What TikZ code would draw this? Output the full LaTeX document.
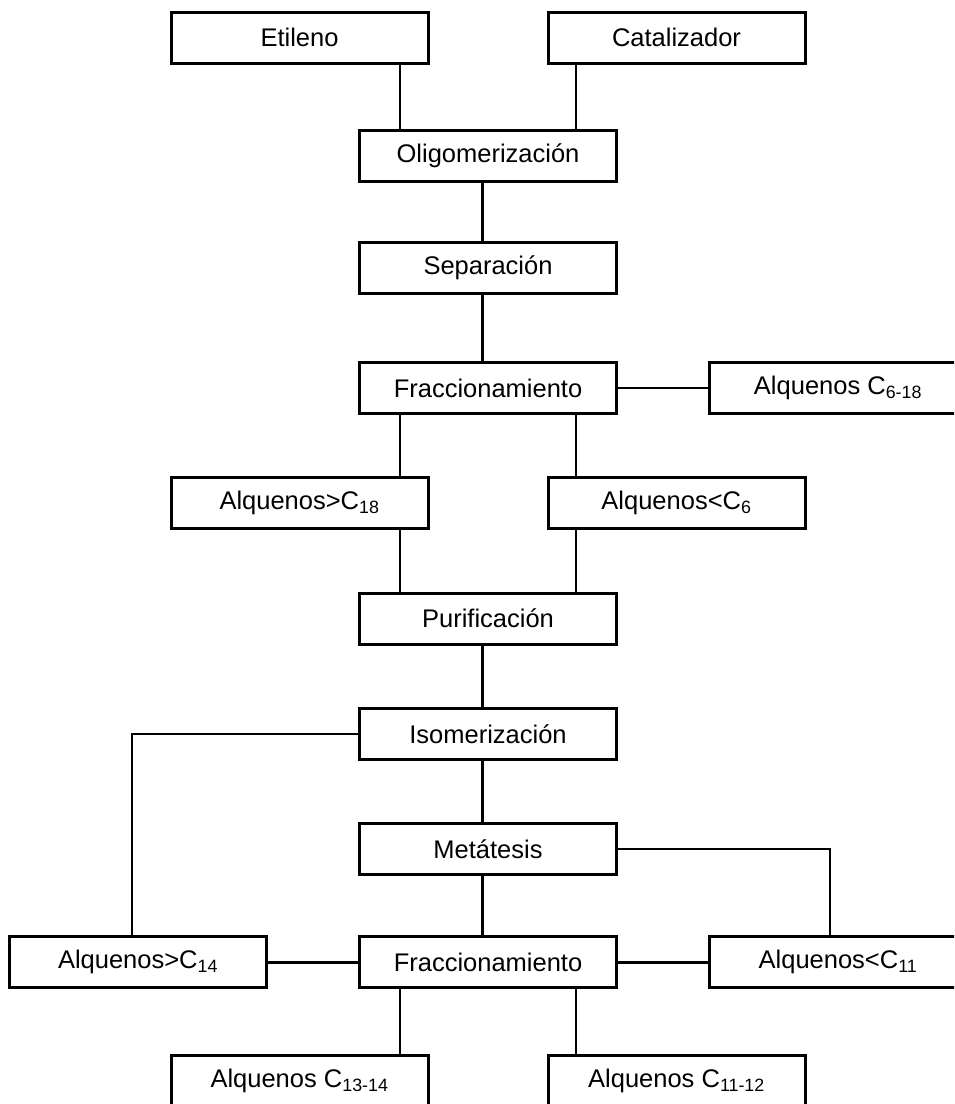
\documentclass[tikz,border=0pt]{standalone}
\usepackage{fontspec}
\setmainfont{Liberation Sans}
\usetikzlibrary{positioning}
\tikzstyle{box} = [rectangle, draw, line width=3pt, minimum width=257pt, minimum height=51pt, inner sep=0pt, outer sep=0pt, font=\fontsize{25.5}{30}\selectfont]
\tikzstyle{pipe} = [line width=2.3pt]
\tikzstyle{trunk} = [line width=3pt]

\begin{document}
\begin{tikzpicture}[x=1pt, y=-1pt, node distance=65pt and 93pt]

    \useasboundingbox (0,0) rectangle (954,1104);
    \clip (0,0) rectangle (954,1104);

    \coordinate (xk) at (132,0);
    \coordinate (xl) at (400,0);
    \coordinate (xc) at (482,0);
    \coordinate (xr) at (576,0);
    \coordinate (xq) at (830,0);

    \node[box] (O) at (488,156) {Oligomerización};
    \node[box, above=67.5pt of O, xshift=-188.5pt] (E) {Etileno};
    \node[box, above=67.5pt of O, xshift=188.5pt] (K) {Catalizador};
    \node[box, below=61pt of O] (S) {Separación};
    \node[box, below=69pt of S] (F1) {Fraccionamiento};
    \node[box, right=of F1] (A618) {Alquenos C\textsubscript{6-18}};
    \node[box, below=64pt of F1, xshift=-188.5pt] (A18) {Alquenos>C\textsubscript{18}};
    \node[box, below=64pt of F1, xshift=188.5pt] (A6) {Alquenos<C\textsubscript{6}};
    \node[box, below=179.5pt of F1] (P) {Purificación};
    \node[box, below=64.5pt of P] (I) {Isomerización};
    \node[box, below=64pt of I] (M) {Metátesis};
    \node[box, below=62pt of M] (F2) {Fraccionamiento};
    \node[box, left=of F2] (A14) {Alquenos>C\textsubscript{14}};
    \node[box, right=of F2] (A11) {Alquenos<C\textsubscript{11}};
    \node[box, below=67.5pt of F2, xshift=-188.5pt] (C1314) {Alquenos C\textsubscript{13-14}};
    \node[box, below=67.5pt of F2, xshift=188.5pt] (C1112) {Alquenos C\textsubscript{11-12}};

    \path[pipe]
        (E.south -| xl) edge (O.north -| xl)
        (K.south -| xr) edge (O.north -| xr)
        (F1.east) edge (A618.west)
        (F1.south -| xl) edge (A18.north -| xl)
        (F1.south -| xr) edge (A6.north -| xr)
        (A18.south -| xl) edge (P.north -| xl)
        (A6.south -| xr) edge (P.north -| xr)
        (F2.south -| xl) edge (C1314.north -| xl)
        (F2.south -| xr) edge (C1112.north -| xr)
    ;

    \path[trunk]
        (O.south -| xc) edge (S.north -| xc)
        (S.south -| xc) edge (F1.north -| xc)
        (P.south -| xc) edge (I.north -| xc)
        (I.south -| xc) edge (M.north -| xc)
        (M.south -| xc) edge (F2.north -| xc)
        (A14.east) edge (F2.west)
        (F2.east) edge (A11.west)
    ;

    \draw[pipe] (I.west) -| (xk |- A14.north);
    \draw[pipe] (M.east) -| (xq |- A11.north);

\end{tikzpicture}
\end{document}
